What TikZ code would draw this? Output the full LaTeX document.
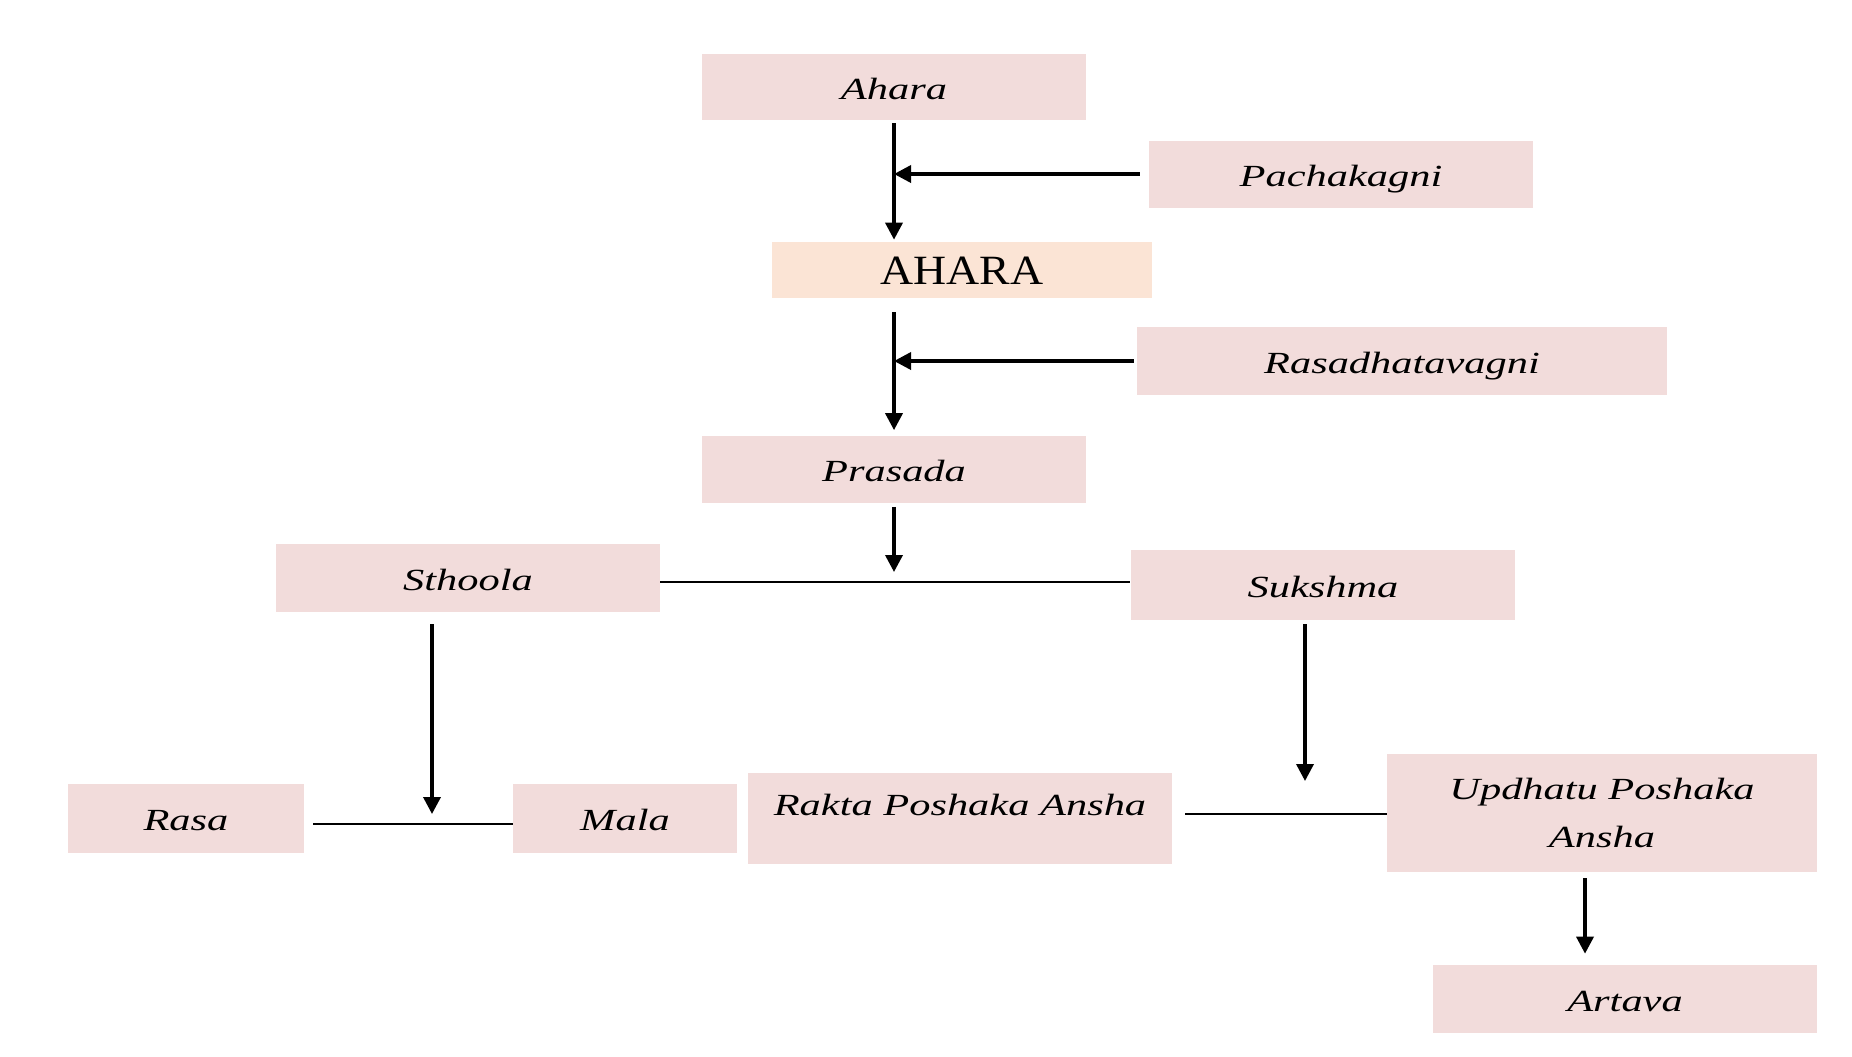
\documentclass[tikz,border=0pt]{standalone}
\usepackage{fontspec}
\setmainfont[FakeStretch=1.38]{Liberation Serif}
\newfontfamily\wideserif[FakeStretch=1.1]{Liberation Serif}
\usetikzlibrary{arrows.meta, positioning, calc}
\definecolor{boxpink}{HTML}{F2DCDB}
\definecolor{boxpeach}{HTML}{FBE4D5}

\tikzset{
  box/.style={fill=boxpink, inner sep=0pt, align=center,
    font=\fontsize{17.5}{27}\selectfont\itshape,
    text height=16pt, text depth=2pt},
  flow/.style={-{Triangle[length=0.34cm, width=0.34cm]}, line width=2pt},
  joinline/.style={line width=1.2pt},
}

\begin{document}
\begin{tikzpicture}[x=0.02cm, y=-0.02cm]
  \useasboundingbox (0,0) rectangle (1852,1056);

  % Digestion
  \node[box, minimum width=7.7cm, minimum height=1.32cm] (ahara) at (894,87) {Ahara};
  \node[box, minimum width=7.68cm, minimum height=1.34cm] (pachak) at (1341,174) {Pachakagni};
  \node[box, fill=boxpeach, minimum width=7.6cm, minimum height=1.12cm,
        font=\wideserif\fontsize{23.7}{28}\selectfont,
        text height=18pt, text depth=1pt] (aharab) at (962,270) {AHARA};
  \node[box, minimum width=10.6cm, minimum height=1.36cm] (rasadh) at (1402,361) {Rasadhatavagni};
  \node[box, minimum width=7.7cm, minimum height=1.34cm] (prasada) at (894,469) {Prasada};

  % Split
  \node[box, minimum width=7.68cm, minimum height=1.36cm] (sthoola) at (468,578) {Sthoola};
  \node[box, minimum width=7.7cm, minimum height=1.4cm] (sukshma) at (1323,585) {Sukshma};

  % Products
  \node[box, minimum width=4.72cm, minimum height=1.38cm] (rasa) at (186,818) {Rasa};
  \node[box, minimum width=4.48cm, minimum height=1.38cm] (mala) at (625,818) {Mala};
  \node[box, minimum width=8.48cm, minimum height=1.82cm,
        text height=0.86cm, text depth=0.96cm] (rakta) at (960,818) {Rakta Poshaka Ansha};
  \node[box, minimum width=8.6cm, minimum height=2.36cm,
        text height=, text depth=] (updhatu) at (1602,813) {Updhatu Poshaka\\Ansha};
  \node[box, minimum width=7.68cm, minimum height=1.36cm] (artava) at (1625,999) {Artava};

  % Arrows
  \draw[flow, shorten <=0.06cm, shorten >=0.04cm] (ahara.south) -- (ahara.south |- aharab.north);
  \draw[flow, shorten <=0.18cm] (pachak.west) -- (pachak.west -| ahara.south);
  \draw[flow, shorten <=0.28cm, shorten >=0.1cm] (ahara.south |- aharab.south) -- (prasada.north);
  \draw[flow, shorten <=0.06cm] (rasadh.west) -- (rasadh.west -| prasada.north);

  \coordinate (split) at (894,582);
  \draw[flow, shorten <=0.08cm, shorten >=0.2cm] (prasada.south) -- (split);
  \draw[joinline] (sthoola.east |- split) -- (sukshma.west |- split);

  \coordinate (leftjoin) at (432,824);
  \draw[flow, shorten <=0.24cm, shorten >=0.2cm] (sthoola.south -| leftjoin) -- (leftjoin);
  \draw[joinline, shorten <=0.18cm] (rasa.east |- leftjoin) -- (mala.west |- leftjoin);

  \coordinate (rightjoin) at (1305,814);
  \draw[flow, shorten <=0.08cm, shorten >=0.66cm] (sukshma.south -| rightjoin) -- (rightjoin);
  \draw[joinline, shorten <=0.26cm] (rakta.east |- rightjoin) -- (updhatu.west |- rightjoin);

  \draw[flow, shorten <=0.12cm, shorten >=0.22cm]
    ([xshift=-0.34cm]updhatu.south) -- ([xshift=-0.34cm]updhatu.south |- artava.north);
\end{tikzpicture}
\end{document}
